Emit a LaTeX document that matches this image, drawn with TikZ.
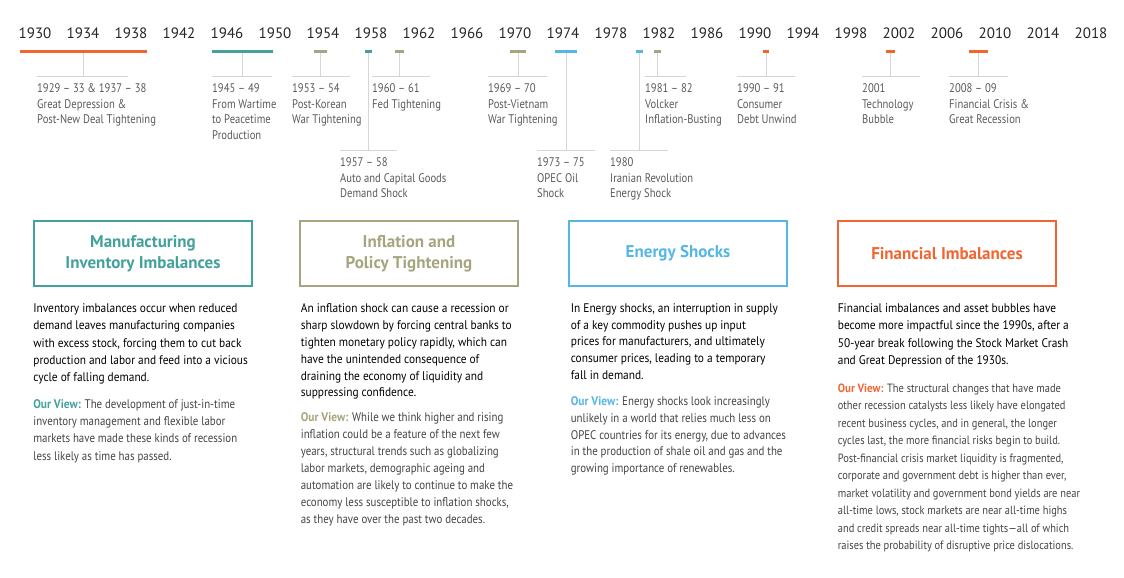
\documentclass[tikz,border=0pt]{standalone}
\usepackage{fontspec}
\setmainfont{PT Sans}[FakeStretch=0.91]
\newfontfamily\viewfont{PT Sans}[FakeStretch=0.87, Ligatures=TeX]
\newfontfamily\labelfont{PT Sans}[FakeStretch=0.85, Ligatures=TeX]
\newfontfamily\yearfont{PT Sans}[Ligatures=TeX]
\usetikzlibrary{positioning}

\definecolor{crisisorange}{HTML}{F26531}
\definecolor{inventoryteal}{HTML}{42A19B}
\definecolor{policyolive}{HTML}{A6A57F}
\definecolor{energyblue}{HTML}{55B6E6}
\definecolor{shelfgray}{HTML}{D6D6D6}
\definecolor{labelgray}{HTML}{5A5A5A}
\definecolor{viewgray}{HTML}{444444}

\begin{document}
\begin{tikzpicture}[
		x=1pt, y=-1pt,
		year/.style={font=\yearfont\fontsize{15}{15}\selectfont, text=black!85, inner sep=0pt},
		bar/.style={fill=#1, inner sep=0pt, minimum height=3pt},
		shelf/.style={draw=shelfgray, line width=1pt},
		event/.style={align=left, inner sep=0pt, text=labelgray, font=\labelfont\fontsize{12.5}{15.5}\selectfont},
		catbox/.style={draw=#1, line width=1.7pt, minimum width=218pt, minimum height=65pt, align=center, text=#1, font=\yearfont\bfseries\fontsize{17}{21.5}\selectfont},
		blurb/.style={align=left, inner sep=0pt, text=black, font=\fontsize{12.5}{#1}\selectfont},
		view/.style={align=left, inner sep=0pt, text=viewgray, font=\viewfont\fontsize{12.5}{#1}\selectfont},
	]
		\useasboundingbox (0,0) rectangle (1124,578);
		
		% years
		\foreach \yr in {1930,1934,...,2018}
			\node[year] (y\yr) at ({35+12*(\yr-1930)},33.5) {\yr};
		
		% bars
		\node[bar=crisisorange, minimum width=127pt] (bar2933) at (83.5,51.5) {};
		\node[bar=inventoryteal, minimum width=61pt] (bar4549) at (242.5,51.5) {};
		\node[bar=policyolive, minimum width=13pt] (bar5354) at (320.5,51.5) {};
		\node[bar=inventoryteal, minimum width=7pt] (bar5758) at (368.5,51.5) {};
		\node[bar=policyolive, minimum width=9pt] (bar6061) at (399.5,51.5) {};
		\node[bar=policyolive, minimum width=16pt] (bar6970) at (518,51.5) {};
		\node[bar=energyblue, minimum width=22pt] (bar7375) at (566,51.5) {};
		\node[bar=energyblue, minimum width=7pt] (bar80) at (639.5,51.5) {};
		\node[bar=policyolive, minimum width=7pt] (bar8182) at (657.5,51.5) {};
		\node[bar=crisisorange, minimum width=6pt] (bar9091) at (766,51.5) {};
		\node[bar=crisisorange, minimum width=9pt] (bar01) at (890.5,51.5) {};
		\node[bar=crisisorange, minimum width=19pt] (bar0809) at (978.5,51.5) {};
		
		% shelves
		\coordinate (shelf2933) at (37,76);
		\coordinate (shelf4549) at (212,76);
		\coordinate (shelf5354) at (292,76);
		\coordinate (shelf5758) at (340,150);
		\coordinate (shelf6061) at (372,76);
		\coordinate (shelf6970) at (488,76);
		\coordinate (shelf7375) at (537,150);
		\coordinate (shelf80) at (610,150);
		\coordinate (shelf8182) at (645,76);
		\coordinate (shelf9091) at (737,76);
		\coordinate (shelf01) at (862,76);
		\coordinate (shelf0809) at (949,76);
		
		\draw[shelf] (shelf2933) -- ++(91,0);
		\draw[shelf] (shelf4549) -- ++(60,0);
		\draw[shelf] (shelf5354) -- ++(58,0);
		\draw[shelf] (shelf5758) -- ++(57,0);
		\draw[shelf] (shelf6061) -- ++(58,0);
		\draw[shelf] (shelf6970) -- ++(59,0);
		\draw[shelf] (shelf7375) -- ++(58,0);
		\draw[shelf] (shelf80) -- ++(58,0);
		\draw[shelf] (shelf8182) -- ++(41,0);
		\draw[shelf] (shelf9091) -- ++(58,0);
		\draw[shelf] (shelf01) -- ++(58,0);
		\draw[shelf] (shelf0809) -- ++(59,0);
		
		\draw[shelf] (bar2933) -- (bar2933 |- shelf2933);
		\draw[shelf] (bar4549) -- (bar4549 |- shelf4549);
		\draw[shelf] (bar5354) -- (bar5354 |- shelf5354);
		\draw[shelf] (bar5758) -- (bar5758 |- shelf5758);
		\draw[shelf] (bar6061) -- (bar6061 |- shelf6061);
		\draw[shelf] (bar6970) -- (bar6970 |- shelf6970);
		\draw[shelf] (bar7375) -- (bar7375 |- shelf7375);
		\draw[shelf] (bar80) -- (bar80 |- shelf80);
		\draw[shelf] (bar8182) -- (bar8182 |- shelf8182);
		\draw[shelf] (bar9091) -- (bar9091 |- shelf9091);
		\draw[shelf] (bar01) -- (bar01 |- shelf01);
		\draw[shelf] (bar0809) -- (bar0809 |- shelf0809);
		
		% events
		\node[event, below right=7.5pt and 0pt of shelf2933] (ev2933) {1929 -- 33 \& 1937 -- 38\\Great Depression \&\\Post-New Deal Tightening};
		\node[event, below right=7.5pt and 0pt of shelf4549] (ev4549) {1945 -- 49\\From Wartime\\to Peacetime\\Production};
		\node[event, below right=7.5pt and 0pt of shelf5354] (ev5354) {1953 -- 54\\Post-Korean\\War Tightening};
		\node[event, below right=7.5pt and 0pt of shelf5758] (ev5758) {1957 -- 58\\Auto and Capital Goods\\Demand Shock};
		\node[event, below right=7.5pt and 0pt of shelf6061] (ev6061) {1960 -- 61\\Fed Tightening};
		\node[event, below right=7.5pt and 0pt of shelf6970] (ev6970) {1969 -- 70\\Post-Vietnam\\War Tightening};
		\node[event, below right=7.5pt and 0pt of shelf7375] (ev7375) {1973 -- 75\\OPEC Oil\\Shock};
		\node[event, below right=7.5pt and 0pt of shelf80] (ev80) {1980\\Iranian Revolution\\Energy Shock};
		\node[event, below right=7.5pt and 0pt of shelf8182] (ev8182) {1981 -- 82\\Volcker\\Inflation-Busting};
		\node[event, below right=7.5pt and 0pt of shelf9091] (ev9091) {1990 -- 91\\Consumer\\Debt Unwind};
		\node[event, below right=7.5pt and 0pt of shelf01] (ev01) {2001\\Technology\\Bubble};
		\node[event, below right=7.5pt and 0pt of shelf0809] (ev0809) {2008 -- 09\\Financial Crisis \&\\Great Recession};
		
		% categories
		\node[catbox=inventoryteal] (inventory) at (143,253.5) {Manufacturing\\Inventory Imbalances};
		\node[catbox=policyolive] (policy) at (409,253.5) {Inflation and\\Policy Tightening};
		\node[catbox=energyblue] (energy) at (678,253.5) {Energy Shocks};
		\node[catbox=crisisorange] (financial) at (947,253.5) {Financial Imbalances};
		
		\node[blurb=17.3, below right=16.5pt and 0pt of inventory.south west] (inventory text) {Inventory imbalances occur when reduced\\demand leaves manufacturing companies\\with excess stock, forcing them to cut back\\production and labor and feed into a vicious\\cycle of falling demand.\strut};
		\node[view=17.3, below right=9pt and 0pt of inventory text.south west] (inventory view) {\strut\textcolor{inventoryteal}{\normalfont\bfseries Our View:} The development of just-in-time\\inventory management and flexible labor\\markets have made these kinds of recession\\less likely as time has passed.};
		
		\node[blurb=16.9, below right=16.5pt and 1.5pt of policy.south west] (policy text) {An inflation shock can cause a recession or\\sharp slowdown by forcing central banks to\\tighten monetary policy rapidly, which can\\have the unintended consequence of\\draining the economy of liquidity and\\suppressing confidence.\strut};
		\node[view=16.9, below right=7.7pt and 0pt of policy text.south west] (policy view) {\strut\textcolor{policyolive}{\normalfont\bfseries Our View:} While we think higher and rising\\inflation could be a feature of the next few\\years, structural trends such as globalizing\\labor markets, demographic ageing and\\automation are likely to continue to make the\\economy less susceptible to inflation shocks,\\as they have over the past two decades.};
		
		\node[blurb=16.7, below right=16.5pt and 2.5pt of energy.south west] (energy text) {In Energy shocks, an interruption in supply\\of a key commodity pushes up input\\prices for manufacturers, and ultimately\\consumer prices, leading to a temporary\\fall in demand.\strut};
		\node[view=16.7, below right=9.3pt and 0pt of energy text.south west] (energy view) {\strut\textcolor{energyblue}{\normalfont\bfseries Our View:} Energy shocks look increasingly\\unlikely in a world that relies much less on\\OPEC countries for its energy, due to advances\\in the production of shale oil and gas and the\\growing importance of renewables.};
		
		\node[blurb=17.5, below right=16.5pt and 0.5pt of financial.south west] (financial text) {Financial imbalances and asset bubbles have\\become more impactful since the 1990s, after a\\50-year break following the Stock Market Crash\\and Great Depression of the 1930s.\strut};
		\node[view=17.5, font=\viewfont\fontsize{12}{17.5}\selectfont, below right=9.5pt and 0pt of financial text.south west] (financial view) {\strut\textcolor{crisisorange}{\normalfont\bfseries Our View:} The structural changes that have made\\other recession catalysts less likely have elongated\\recent business cycles, and in general, the longer\\cycles last, the more financial risks begin to build.\\Post-financial crisis market liquidity is fragmented,\\corporate and government debt is higher than ever,\\market volatility and government bond yields are near\\all-time lows, stock markets are near all-time highs\\and credit spreads near all-time tights---all of which\\raises the probability of disruptive price dislocations.};
	\end{tikzpicture}
\end{document}
